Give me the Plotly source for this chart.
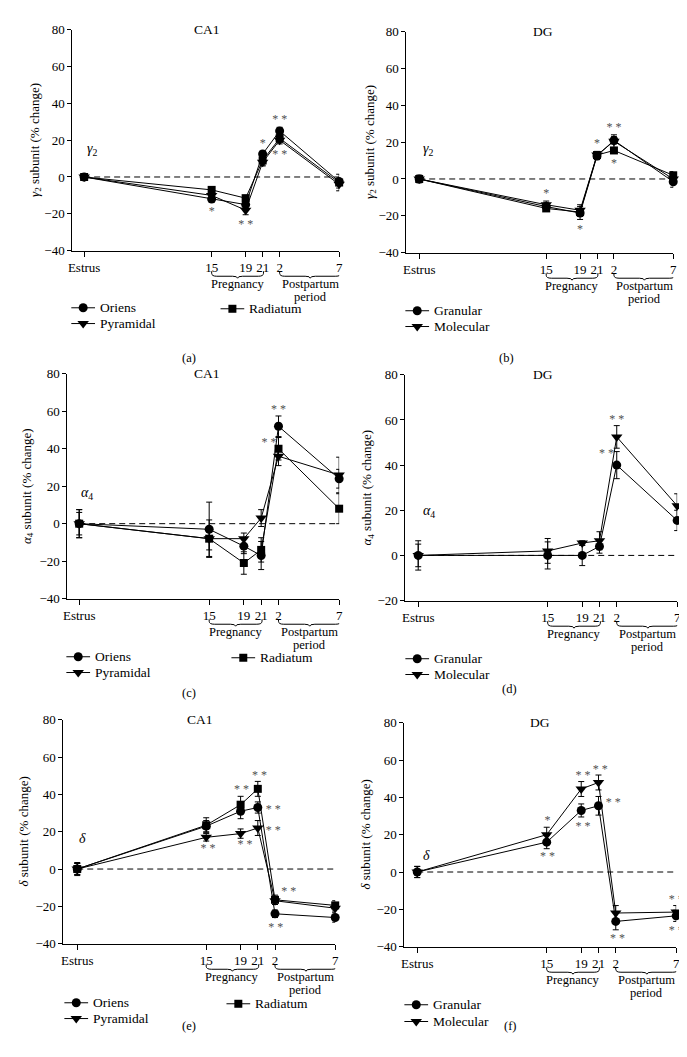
import plotly.graph_objects as go

W, H = 687, 1057
FONT = "Liberation Serif"
INK = "black"
STAR_INK = "#505050"

# ---------------- data ----------------
X_DAYS = [0, 15, 19, 21, 23, 30]
X_TICKS = ["Estrus", "15", "19", "21", "2", "7"]

# (a) CA1, gamma2
A_ORIENS = [0, -12, -15, 12.5, 25, -2.5]
A_ORIENS_ERR = [1, 1.5, 2, 1.5, 2, 2]
A_PYRAMIDAL = [0, -10, -18, 8, 20, -4]
A_PYRAMIDAL_ERR = [1, 1.5, 2.5, 2, 2, 2]
A_RADIATUM = [0, -7, -11.5, 9, 21, -3]
A_RADIATUM_ERR = [1, 1.5, 1.5, 2.5, 2, 4.5]
A_STAR_X = [15, 19, 21, 23, 23]
A_STAR_Y = [-19, -26, 18, 31, 12]
A_STAR_T = ["*", "* *", "*", "* *", "* *"]

# (b) DG, gamma2
B_GRANULAR = [0, -15, -18.5, 12.5, 21, -1.5]
B_GRANULAR_ERR = [2, 2, 3.5, 2, 2, 3]
B_MOLECULAR = [0, -14, -17, 13, 20.5, 0]
B_MOLECULAR_ERR = [2, 2, 3, 2, 3.5, 2]
B_THIRD = [0, -16, -18, 13, 15.5, 2]
B_THIRD_ERR = [1, 1.5, 2, 1.5, 1.5, 2]
B_STAR_X = [15, 19, 21, 23, 23]
B_STAR_Y = [-8, -28, 19, 27.5, 8]
B_STAR_T = ["*", "*", "*", "* *", "*"]

# (c) CA1, alpha4
C_ORIENS = [0, -3, -12, -17, 52, 24]
C_ORIENS_ERR = [7.5, 14.5, 4, 7.5, 5.5, 5]
C_PYRAMIDAL = [0, -8, -8, 3, 36, 26]
C_PYRAMIDAL_ERR = [6, 10, 3, 4.5, 5, 9.5]
C_RADIATUM = [0, -8, -21, -14, 40, 8]
C_RADIATUM_ERR = [7.5, 6, 6, 6.5, 6, 8]
C_STAR_X = [23, 21.9]
C_STAR_Y = [60.5, 43]
C_STAR_T = ["* *", "* *"]

# (d) DG, alpha4
D_GRANULAR = [0, 0, 0, 4, 40, 15.5]
D_GRANULAR_ERR = [6.5, 6, 4.5, 3, 6, 4.5]
D_MOLECULAR = [0, 2, 5.5, 6.5, 52.5, 22]
D_MOLECULAR_ERR = [5, 5.5, 1, 4, 5, 5.3]
D_STAR_X = [23, 21.8]
D_STAR_Y = [60, 45]
D_STAR_T = ["* *", "* *"]

# (e) CA1, delta
E_ORIENS = [0, 23, 31, 33, -24, -26]
E_ORIENS_ERR = [3.5, 3, 4, 3, 2, 2.5]
E_PYRAMIDAL = [0, 17, 19, 22, -17, -21]
E_PYRAMIDAL_ERR = [3, 2, 2.5, 4, 2, 2]
E_RADIATUM = [0, 23.5, 34.5, 43, -16.5, -19.5]
E_RADIATUM_ERR = [3, 4, 4.5, 4, 2.5, 2.5]
E_STAR_X = [15.2, 19.1, 19.5, 21.2, 22.8, 22.8, 24.6, 23.1, 30.3]
E_STAR_Y = [10.5, 42.3, 12.7, 49.7, 31.7, 20.6, -12.3, -31.4, -33.5]
E_STAR_T = ["* *"] * 9

# (f) DG, delta
F_GRANULAR = [0, 16, 33, 35.5, -26.5, -23.5]
F_GRANULAR_ERR = [3, 3.5, 3.5, 5, 4.5, 3]
F_MOLECULAR = [0, 20, 44.5, 48, -22, -21.5]
F_MOLECULAR_ERR = [3, 4, 4, 4, 4, 3.5]
F_STAR_X = [15.1, 15.1, 19.2, 19.2, 21.2, 22.7, 23.2, 30, 30]
F_STAR_Y = [27.2, 7.8, 51.5, 24, 54.7, 37, -35.8, -14.8, -31.8]
F_STAR_T = ["*", "* *", "* *", "* *", "* *", "* *", "* *", "* *", "* *"]

GAMMA = "<i>γ</i><sub>2</sub>"
ALPHA = "<i>α</i><sub>4</sub>"
DELTA = "<i>δ</i>"

SYM = {"circle": ("circle", 9), "tri": ("triangle-down", 10), "square": ("square", 8)}

# panel geometry in pixels: y-axis x, estrus x, "7" x, top(ymax) y, bottom(ymin) y
PANELS = [
    dict(n=1, geo=(61, 73, 331, 15, 239), yr=(-40, 80), title="CA1", title_px=(197, 15),
         ylab=GAMMA, ylab_x=23, label="(a)", label_px=(170, 339), greek=GAMMA, greek_xy=(1.0, 15),
         series=[("Oriens", A_ORIENS, A_ORIENS_ERR, "circle", (60, 297)),
                 ("Pyramidal", A_PYRAMIDAL, A_PYRAMIDAL_ERR, "tri", (60, 313)),
                 ("Radiatum", A_RADIATUM, A_RADIATUM_ERR, "square", (211, 298))],
         stars=(A_STAR_X, A_STAR_Y, A_STAR_T)),
    dict(n=2, geo=(399, 412, 669, 17, 241), yr=(-40, 80), title="DG", title_px=(537, 17),
         ylab=GAMMA, ylab_x=362, label="(b)", label_px=(510, 339), greek=GAMMA, greek_xy=(1.1, 16),
         series=[("Granular", B_GRANULAR, B_GRANULAR_ERR, "circle", (398, 300)),
                 ("Molecular", B_MOLECULAR, B_MOLECULAR_ERR, "tri", (398, 316)),
                 ("", B_THIRD, B_THIRD_ERR, "square", None)],
         stars=(B_STAR_X, B_STAR_Y, B_STAR_T)),
    dict(n=3, geo=(56, 68, 331, 364, 592), yr=(-40, 80), title="CA1", title_px=(197, 364),
         ylab=ALPHA, ylab_x=15, label="(c)", label_px=(170, 688), greek=ALPHA, greek_xy=(0.9, 16),
         series=[("Oriens", C_ORIENS, C_ORIENS_ERR, "circle", (55, 651)),
                 ("Pyramidal", C_PYRAMIDAL, C_PYRAMIDAL_ERR, "tri", (55, 667)),
                 ("Radiatum", C_RADIATUM, C_RADIATUM_ERR, "square", (222, 652))],
         stars=(C_STAR_X, C_STAR_Y, C_STAR_T)),
    dict(n=4, geo=(398, 411, 673, 365, 594), yr=(-20, 80), title="DG", title_px=(537, 365),
         ylab=ALPHA, ylab_x=360, label="(d)", label_px=(513, 684), greek=ALPHA, greek_xy=(1.3, 19.5),
         series=[("Granular", D_GRANULAR, D_GRANULAR_ERR, "circle", (398, 653)),
                 ("Molecular", D_MOLECULAR, D_MOLECULAR_ERR, "tri", (398, 669))],
         stars=(D_STAR_X, D_STAR_Y, D_STAR_T)),
    dict(n=5, geo=(52, 66, 327, 715, 942), yr=(-40, 80), title="CA1", title_px=(190, 715),
         ylab=DELTA, ylab_x=12, label="(e)", label_px=(170, 1035), greek=DELTA, greek_xy=(0.6, 16.4),
         series=[("Oriens", E_ORIENS, E_ORIENS_ERR, "circle", (53, 1002)),
                 ("Pyramidal", E_PYRAMIDAL, E_PYRAMIDAL_ERR, "tri", (53, 1018)),
                 ("Radiatum", E_RADIATUM, E_RADIATUM_ERR, "square", (217, 1003))],
         stars=(E_STAR_X, E_STAR_Y, E_STAR_T)),
    dict(n=6, geo=(397, 410, 672, 718, 945), yr=(-40, 80), title="DG", title_px=(534, 718),
         ylab=DELTA, ylab_x=358, label="(f)", label_px=(513, 1035), greek=DELTA, greek_xy=(1.1, 9),
         series=[("Granular", F_GRANULAR, F_GRANULAR_ERR, "circle", (397, 1004)),
                 ("Molecular", F_MOLECULAR, F_MOLECULAR_ERR, "tri", (397, 1021))],
         stars=(F_STAR_X, F_STAR_Y, F_STAR_T)),
]


def px(xp):
    return xp / W


def py(yp):
    return 1 - yp / H


fig = go.Figure()
layout = dict(width=W, height=H, margin=dict(l=0, r=0, t=0, b=0),
              paper_bgcolor="white", plot_bgcolor="rgba(0,0,0,0)", showlegend=False,
              font=dict(family=FONT, size=13, color=INK))
annotations = []
shapes = []
TFONT = dict(family=FONT, size=13.5, color=INK)
KFONT = dict(family=FONT, size=13, color=INK)
BFONT = dict(family=FONT, size=12.5, color=INK)

# overlay pixel axes for the legend keys
layout["xaxis7"] = dict(domain=[0, 1], range=[0, W], visible=False, anchor="y7", fixedrange=True)
layout["yaxis7"] = dict(domain=[0, 1], range=[H, 0], visible=False, anchor="x7", fixedrange=True)
KEY_LEN = 24
key_lx, key_ly = [], []
key_mk = {}

for P in PANELS:
    n = P["n"]
    yax_px, est_px, sev_px, top_px, bot_px = P["geo"]
    scale = (sev_px - est_px) / 30.0
    xmin = -(est_px - yax_px) / scale
    xs = "" if n == 1 else str(n)
    xref, yref = "x" + xs, "y" + xs
    ymin, ymax = P["yr"]
    layout["xaxis" + xs] = dict(domain=[px(yax_px), px(sev_px)], range=[xmin, 30], anchor=yref,
                                tickmode="array", tickvals=X_DAYS, ticktext=X_TICKS,
                                ticks="outside", ticklen=5, tickcolor=INK, showline=True,
                                linecolor=INK, linewidth=1, showgrid=False, zeroline=False,
                                tickfont=KFONT, tickangle=0, fixedrange=True)
    layout["yaxis" + xs] = dict(domain=[py(bot_px), py(top_px)], range=[ymin, ymax], anchor=xref,
                                tickmode="array", tickvals=list(range(ymin, ymax + 1, 20)),
                                ticks="outside", ticklen=4, tickcolor=INK, showline=True,
                                linecolor=INK, linewidth=1, showgrid=False, zeroline=False,
                                tickfont=KFONT, fixedrange=True)
    # dashed zero line
    shapes.append(dict(type="line", xref=xref, yref=yref, x0=X_DAYS[0], x1=X_DAYS[-1], y0=0, y1=0,
                       line=dict(color=INK, width=1, dash="6px,4px"), layer="below"))
    # series
    for name, vals, errs, sym, key in P["series"]:
        s, sz = SYM[sym]
        fig.add_trace(go.Scatter(
            x=X_DAYS, y=vals, mode="lines+markers", name=name or "series", xaxis=xref, yaxis=yref,
            line=dict(color=INK, width=1), marker=dict(symbol=s, size=sz, color=INK),
            error_y=dict(type="data", array=errs, visible=True, color=INK, thickness=1, width=3),
            cliponaxis=False, showlegend=False))
        if key is not None:
            kx, ky = key
            key_lx += [kx, kx + KEY_LEN, None]
            key_ly += [ky, ky, None]
            key_mk.setdefault(sym, ([], []))
            key_mk[sym][0].append(kx + KEY_LEN / 2)
            key_mk[sym][1].append(ky)
            annotations.append(dict(text=name, x=px(kx + KEY_LEN + 4), y=py(ky), xref="paper",
                                    yref="paper", showarrow=False, font=TFONT, borderpad=0,
                                    xanchor="left", yanchor="middle"))
    # stars
    sx, sy, st = P["stars"]
    fig.add_trace(go.Scatter(x=sx, y=sy, text=st, mode="text", xaxis=xref, yaxis=yref,
                             textfont=dict(family=FONT, size=12, color=STAR_INK),
                             textposition="middle center", showlegend=False, cliponaxis=False,
                             hoverinfo="skip"))
    # title / y label / panel label / greek
    tx, ty = P["title_px"]
    annotations.append(dict(text=P["title"], x=px(tx), y=py(ty), xref="paper", yref="paper",
                            showarrow=False, font=TFONT, xanchor="center", yanchor="middle"))
    annotations.append(dict(text=P["ylab"] + " subunit (% change)", x=px(P["ylab_x"]),
                            y=py((top_px + bot_px) / 2), xref="paper", yref="paper", textangle=-90,
                            showarrow=False, font=dict(family=FONT, size=13, color=INK),
                            xanchor="center", yanchor="middle"))
    lx, ly = P["label_px"]
    annotations.append(dict(text=P["label"], x=px(lx), y=py(ly), xref="paper", yref="paper",
                            showarrow=False, font=dict(family=FONT, size=12.5, color=INK)))
    gx, gy = P["greek_xy"]
    annotations.append(dict(text=P["greek"], x=gx, y=gy, xref=xref, yref=yref, showarrow=False,
                            font=dict(family=FONT, size=14, color=INK)))
    # brackets
    for (b0, b1, words) in [(15, 21.1, ["Pregnancy"]), (23, 30.2, ["Postpartum", "period"])]:
        yt, yb = py(bot_px + 21), py(bot_px + 26)
        r = 0.6
        rp = py(bot_px + 23) - py(bot_px + 26)
        mid = (b0 + b1) / 2
        notch = py(bot_px + 26) - py(bot_px + 28)
        path = (f"M{b0},{yt} L{b0},{yb + rp} Q{b0},{yb} {b0 + r},{yb} "
                f"L{mid - r},{yb} Q{mid},{yb} {mid},{yb - notch} Q{mid},{yb} {mid + r},{yb} "
                f"L{b1 - r},{yb} Q{b1},{yb} {b1},{yb + rp} L{b1},{yt}")
        shapes.append(dict(type="path", path=path, xref=xref, yref="paper",
                           line=dict(color=INK, width=1)))
        for i, w in enumerate(words):
            annotations.append(dict(text=w, x=mid, y=py(bot_px + 34 + 13 * i), xref=xref,
                                    yref="paper", showarrow=False, font=BFONT, borderpad=0,
                                    xanchor="center", yanchor="middle"))

# legend keys
fig.add_trace(go.Scatter(x=key_lx, y=key_ly, mode="lines", xaxis="x7", yaxis="y7",
                         line=dict(color=INK, width=1), hoverinfo="skip", showlegend=False))
for sym, (mx, my) in key_mk.items():
    s, sz = SYM[sym]
    fig.add_trace(go.Scatter(x=mx, y=my, mode="markers", xaxis="x7", yaxis="y7",
                             marker=dict(symbol=s, size=sz, color=INK), hoverinfo="skip",
                             showlegend=False))

layout["annotations"] = annotations
layout["shapes"] = shapes
fig.update_layout(**layout)
fig.write_html("out.html")
